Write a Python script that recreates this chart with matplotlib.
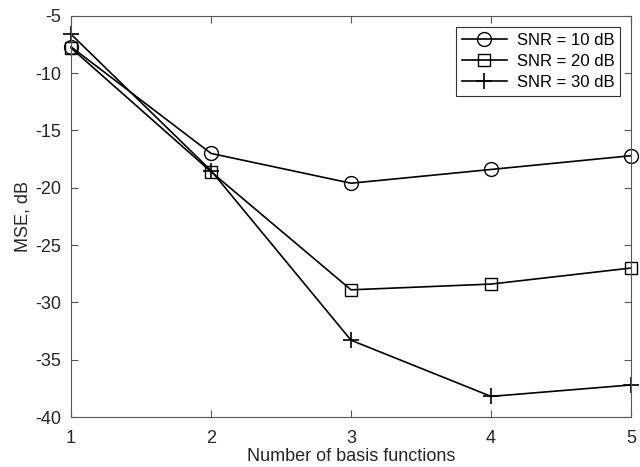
import numpy as np
import matplotlib.pyplot as plt

plt.rcParams['font.family'] = ['Liberation Sans', 'DejaVu Sans']
plt.rcParams['axes.unicode_minus'] = False

n_basis = [1, 2, 3, 4, 5]
mse_10 = [-7.7, -17.0, -19.6, -18.4, -17.2]
mse_20 = [-7.8, -18.6, -28.9, -28.4, -27.0]
mse_30 = [-6.6, -18.5, -33.3, -38.2, -37.2]

fig = plt.figure(figsize=(6.4, 4.67), dpi=100)
ax = fig.add_axes([0.111, 0.107, 0.875, 0.859])

ax.plot(n_basis, mse_10, 'k-o', mfc='none', ms=10, lw=1.2, clip_on=False, label='SNR = 10 dB')
ax.plot(n_basis, mse_20, 'k-s', mfc='none', ms=8.5, lw=1.2, clip_on=False, label='SNR = 20 dB')
ax.plot(n_basis, mse_30, 'k-+', ms=11, mew=1.2, lw=1.2, clip_on=False, label='SNR = 30 dB')

ax.set_xlim(1, 5)
ax.set_ylim(-40, -5)
ax.set_xticks(n_basis)
ax.set_yticks(np.arange(-40, -4, 5))
ax.tick_params(direction='in', top=True, right=True, length=5, labelsize=13,
               color='#555555', labelcolor='#262626')
ax.tick_params(axis='x', pad=9)
ax.tick_params(axis='y', pad=7)
for s in ax.spines.values():
    s.set_color('#555555')
    s.set_linewidth(0.8)

ax.set_xlabel('Number of basis functions', fontsize=13, color='#262626', labelpad=1)
ax.set_ylabel('MSE, dB', fontsize=13, color='#262626', labelpad=3)

leg = ax.legend(loc='upper right', fontsize=12, fancybox=False, framealpha=1,
                edgecolor='#333333', borderaxespad=0.65, handlelength=2.7,
                labelspacing=0.38, borderpad=0.35, handletextpad=0.6)
leg.get_frame().set_linewidth(0.8)

fig.savefig('out.png', dpi=100)
